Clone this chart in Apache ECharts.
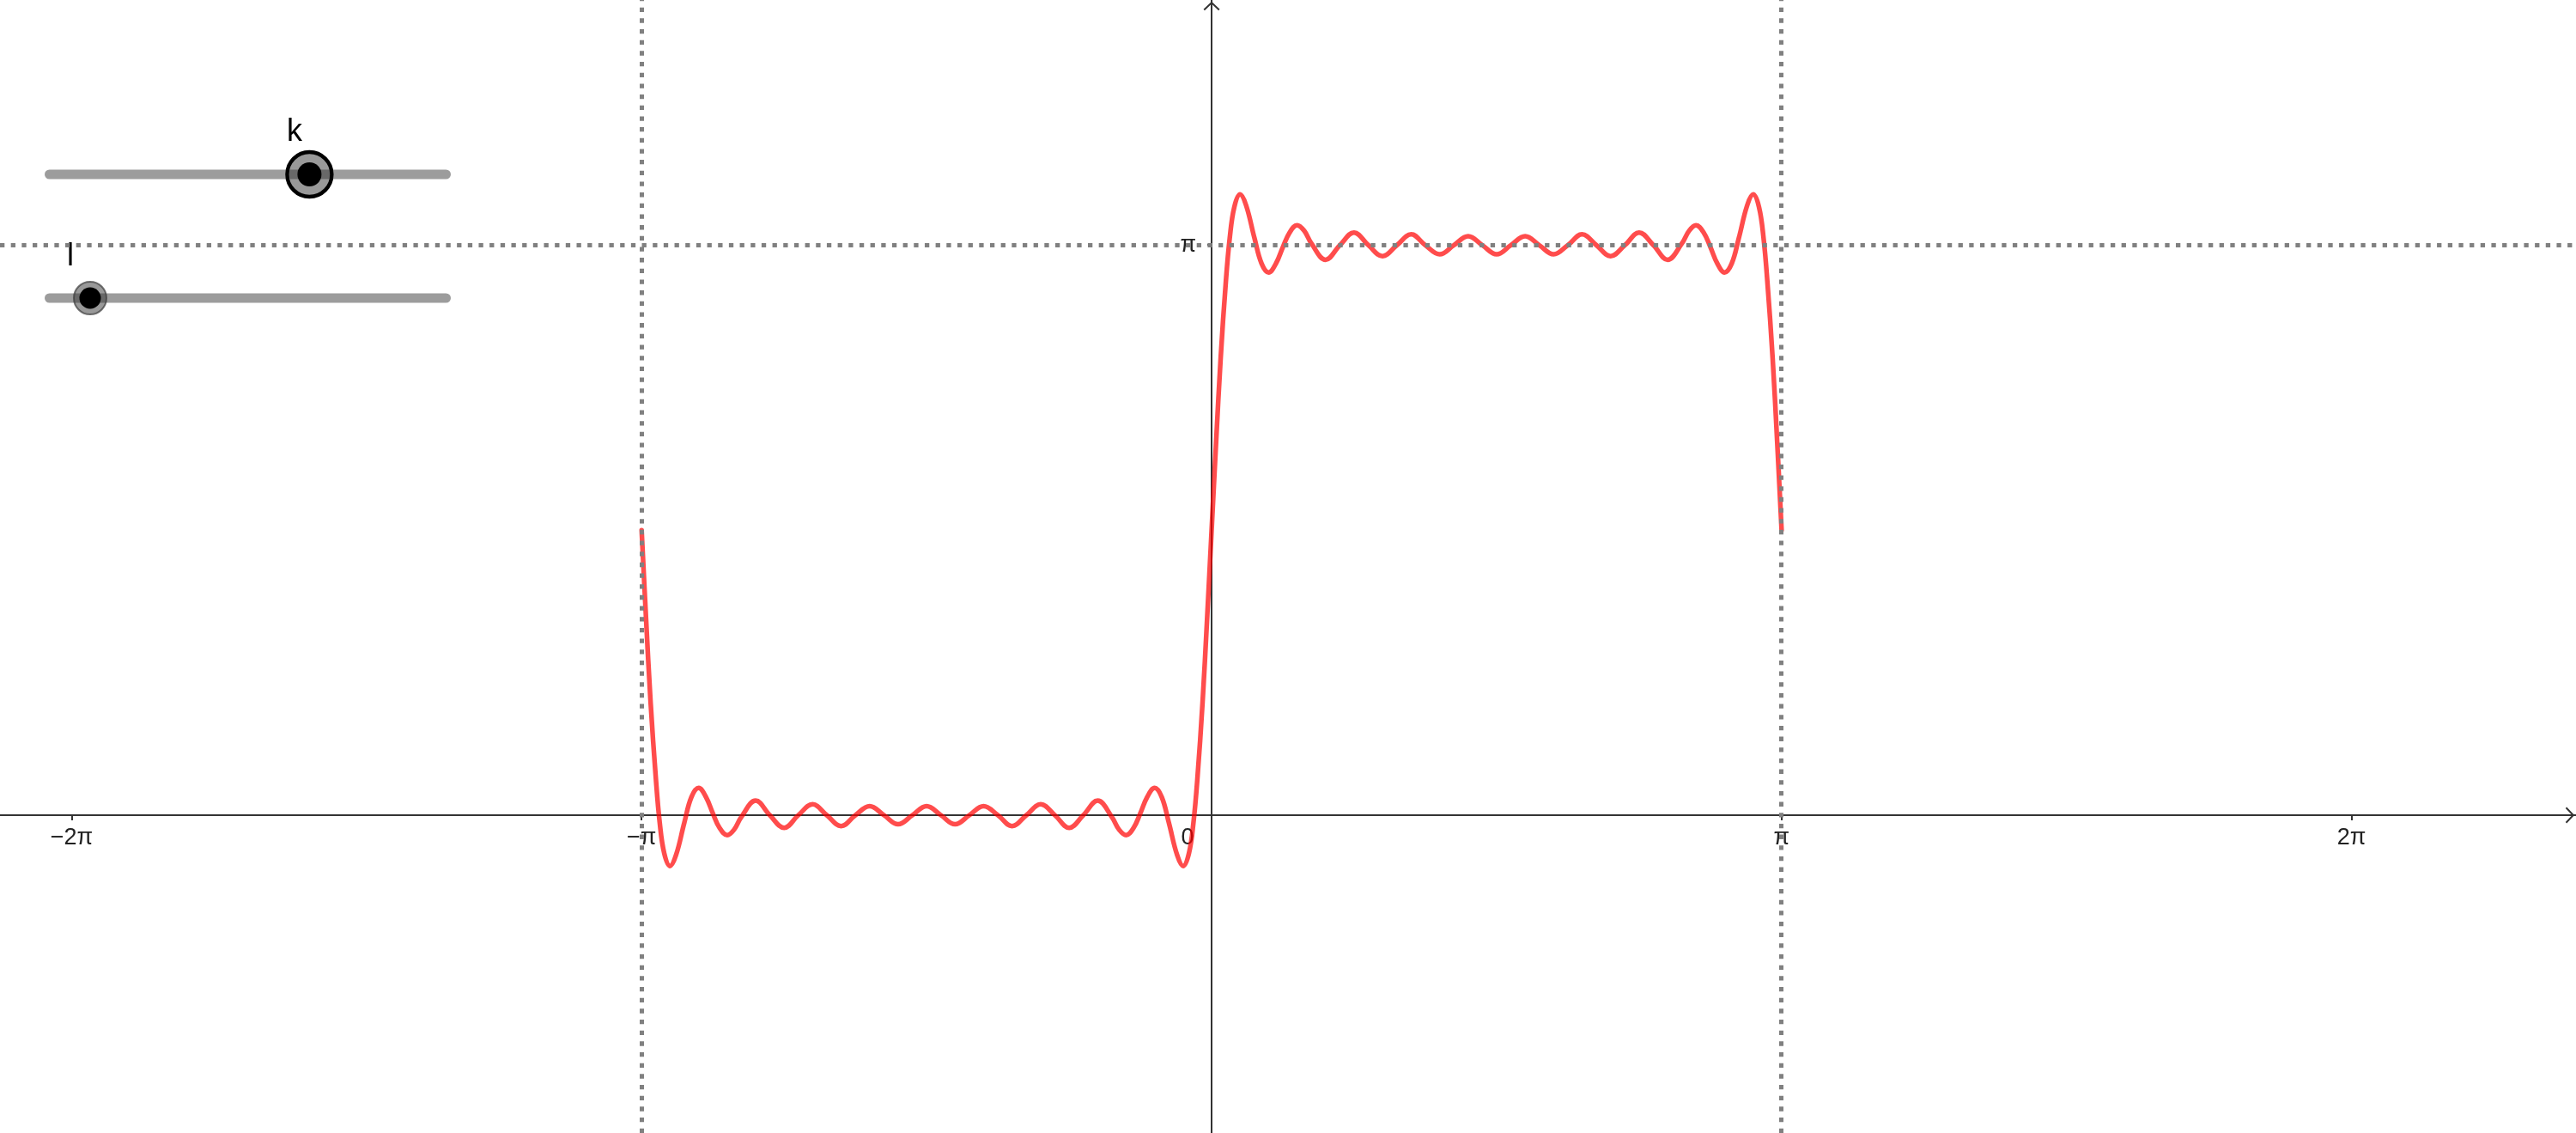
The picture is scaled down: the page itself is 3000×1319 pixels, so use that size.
<!DOCTYPE html>
<html>
<head>
<meta charset="utf-8">
<script src="https://cdn.jsdelivr.net/npm/echarts@6/dist/echarts.min.js"></script>
<style>
html, body { margin: 0; padding: 0; background: #ffffff; }
#chart { width: 3000px; height: 1319px; }
</style>
</head>
<body>
<div id="chart"></div>
<script>
// ---- data (plot units) ----
const curveX = [
  -3.1416, -3.117, -3.092, -3.063, -3.042, -3.017, -2.985, -2.952, -2.906, -2.867,
  -2.827, -2.787, -2.749, -2.712, -2.670, -2.632, -2.592, -2.513, -2.435, -2.356,
  -2.278, -2.199, -2.121, -2.042, -1.963, -1.885, -1.806, -1.728, -1.649, -1.571,
  -1.492, -1.414, -1.335, -1.257, -1.178, -1.100, -1.021, -0.942, -0.864, -0.785,
  -0.707, -0.628, -0.550, -0.510, -0.471, -0.430, -0.393, -0.355, -0.314, -0.275,
  -0.236, -0.190, -0.157, -0.125, -0.100, -0.0785, -0.050, -0.025,
  0, 0.025, 0.050, 0.0785, 0.100, 0.125, 0.157, 0.190, 0.236, 0.275,
  0.314, 0.355, 0.393, 0.430, 0.471, 0.510, 0.550, 0.628, 0.707, 0.785,
  0.864, 0.942, 1.021, 1.100, 1.178, 1.257, 1.335, 1.414, 1.492, 1.571,
  1.649, 1.728, 1.806, 1.885, 1.963, 2.042, 2.121, 2.199, 2.278, 2.356,
  2.435, 2.513, 2.592, 2.632, 2.670, 2.712, 2.749, 2.787, 2.827, 2.867,
  2.906, 2.952, 2.985, 3.017, 3.042, 3.063, 3.092, 3.117, 3.1416
];
const curveY = [
  1.57, 1.08, 0.62, 0.20, -0.04, -0.21, -0.28, -0.22, -0.04, 0.10,
  0.15, 0.10, 0.01, -0.07, -0.11, -0.08, -0.01, 0.08, 0.00, -0.07,
  0.00, 0.06, 0.00, -0.06, 0.00, 0.05, 0.00, -0.05, 0.00, 0.05,
  0.00, -0.05, 0.00, 0.05, 0.00, -0.06, 0.00, 0.06, 0.00, -0.07,
  0.00, 0.08, -0.01, -0.08, -0.11, -0.07, 0.01, 0.10, 0.15, 0.10,
  -0.04, -0.22, -0.28, -0.21, -0.04, 0.20, 0.62, 1.08,
  1.57, 2.06, 2.52, 2.94, 3.18, 3.35, 3.42, 3.36, 3.18, 3.04,
  2.99, 3.04, 3.13, 3.21, 3.25, 3.22, 3.15, 3.06, 3.14, 3.21,
  3.14, 3.08, 3.14, 3.20, 3.14, 3.09, 3.14, 3.19, 3.14, 3.09,
  3.14, 3.19, 3.14, 3.09, 3.14, 3.20, 3.14, 3.08, 3.14, 3.21,
  3.14, 3.06, 3.15, 3.22, 3.25, 3.21, 3.13, 3.04, 2.99, 3.04,
  3.18, 3.36, 3.42, 3.35, 3.18, 2.94, 2.52, 2.06, 1.57
];
const xTickValues = [-6.2832, -3.1416, 0, 3.1416, 6.2832];
const xTickLabels = ['\u22122\u03c0', '\u2212\u03c0', '0', '\u03c0', '2\u03c0'];
const yTickValues = [3.1416];
const yTickLabels = ['\u03c0'];
const verticalLinesX = [-3.1416, 3.1416];
const horizontalLinesY = [3.1416];
const sliderNames = ['k', 'l'];
const sliderPositions = [0.652, 0.112];

// ---- view window ----
const X_MIN = -6.678, X_MAX = 7.520, Y_MIN = -1.751, Y_MAX = 4.491;
const W = 3000, H = 1319;
// move the axes onto the origin of the value scales
const xAxisOffset = -(H * (0 - Y_MIN) / (Y_MAX - Y_MIN));
const yAxisOffset = -(W * (0 - X_MIN) / (X_MAX - X_MIN));

const FONT = 'Liberation Sans';
const AXIS_COLOR = '#333333';
const LABEL_COLOR = '#222222';
const LABEL_SIZE = 27;
const ARROW = 'path://M0,9L9.5,0L19,9L17.6,10.4L9.5,2.8L1.4,10.4Z';

function labelFor(values, labels, v) {
  for (let i = 0; i < values.length; i++) {
    if (Math.abs(values[i] - v) < 1e-6) return labels[i];
  }
  return '';
}

const chart = echarts.init(document.getElementById('chart'), null, { renderer: 'canvas' });

// sliders (UI decoration)
const trackStart = 52, trackEnd = 525, trackWidth = 11;
const sliderY = [203, 347];
const labelPos = [[343, 154], [82, 299]];
const graphics = [];
sliderNames.forEach(function (name, i) {
  const y = sliderY[i];
  const cx = trackStart + sliderPositions[i] * (trackEnd - trackStart);
  graphics.push({
    type: 'line', silent: true, z: 1,
    shape: { x1: trackStart + trackWidth / 2, y1: y, x2: trackEnd - trackWidth / 2, y2: y },
    style: { stroke: '#9c9c9c', lineWidth: trackWidth, lineCap: 'round' }
  });
  if (i === 0) {
    graphics.push({
      type: 'circle', silent: true, z: 2,
      shape: { cx: cx, cy: y, r: 26 },
      style: { fill: 'rgba(51,51,51,0.5)', stroke: '#000000', lineWidth: 4.3 }
    });
    graphics.push({
      type: 'circle', silent: true, z: 3,
      shape: { cx: cx, cy: y, r: 14 },
      style: { fill: '#000000' }
    });
  } else {
    graphics.push({
      type: 'circle', silent: true, z: 2,
      shape: { cx: cx, cy: y, r: 19 },
      style: { fill: 'rgba(51,51,51,0.5)', stroke: 'rgba(60,60,60,0.7)', lineWidth: 2 }
    });
    graphics.push({
      type: 'circle', silent: true, z: 3,
      shape: { cx: cx, cy: y, r: 12.5 },
      style: { fill: '#000000' }
    });
  }
  graphics.push({
    type: 'text', silent: true, z: 4,
    x: labelPos[i][0], y: labelPos[i][1],
    style: {
      text: name, fill: '#000000', font: '36px "' + FONT + '"',
      align: 'center', verticalAlign: 'middle',
      textAlign: 'center', textVerticalAlign: 'middle'
    }
  });
});

const option = {
  animation: false,
  backgroundColor: '#ffffff',
  textStyle: { fontFamily: FONT },
  grid: { left: 0, right: 0, top: 0, bottom: 0, containLabel: false, outerBoundsMode: 'none' },
  xAxis: {
    type: 'value', min: X_MIN, max: X_MAX,
    position: 'bottom', offset: xAxisOffset,
    axisLine: {
      show: true, onZero: false,
      lineStyle: { color: AXIS_COLOR, width: 2 },
      symbol: ['none', ARROW], symbolSize: [19, 10.4], symbolOffset: [0, -7]
    },
    axisTick: { show: true, customValues: xTickValues, length: 6, lineStyle: { color: AXIS_COLOR, width: 2 } },
    axisLabel: {
      show: true, customValues: xTickValues, margin: 13,
      fontSize: LABEL_SIZE, fontFamily: FONT, color: LABEL_COLOR,
      formatter: function (v) {
        const t = labelFor(xTickValues, xTickLabels, v);
        return Math.abs(v) < 1e-6 ? '{z|' + t + '}' : t;
      },
      rich: { z: { fontSize: LABEL_SIZE, fontFamily: FONT, color: LABEL_COLOR, padding: [0, 56, 0, 0] } }
    },
    splitLine: { show: false },
    minorTick: { show: false }
  },
  yAxis: {
    type: 'value', min: Y_MIN, max: Y_MAX,
    position: 'left', offset: yAxisOffset,
    axisLine: {
      show: true, onZero: false,
      lineStyle: { color: AXIS_COLOR, width: 2 },
      symbol: ['none', ARROW], symbolSize: [19, 10.4], symbolOffset: [0, -7]
    },
    axisTick: { show: true, customValues: yTickValues, length: 5, lineStyle: { color: AXIS_COLOR, width: 2 } },
    axisLabel: {
      show: true, customValues: yTickValues, margin: 18,
      fontSize: LABEL_SIZE, fontFamily: FONT, color: LABEL_COLOR,
      formatter: function (v) { return labelFor(yTickValues, yTickLabels, v); }
    },
    splitLine: { show: false },
    minorTick: { show: false }
  },
  graphic: graphics,
  series: [
    {
      type: 'line',
      data: curveX.map(function (x, i) { return [x, curveY[i]]; }),
      showSymbol: false,
      smooth: 0.4,
      clip: true,
      silent: true,
      z: 3,
      lineStyle: { color: 'rgba(255,0,0,0.7)', width: 5.5, cap: 'round', join: 'round' },
      markLine: {
        silent: true,
        symbol: ['none', 'none'],
        label: { show: false },
        emphasis: { disabled: true },
        lineStyle: { color: '#808080', width: 5, type: [5.3, 7.37], opacity: 1 },
        data: verticalLinesX.map(function (v) { return { xAxis: v }; })
          .concat(horizontalLinesY.map(function (v) { return { yAxis: v }; }))
      }
    }
  ]
};
chart.setOption(option);
</script>
</body>
</html>
